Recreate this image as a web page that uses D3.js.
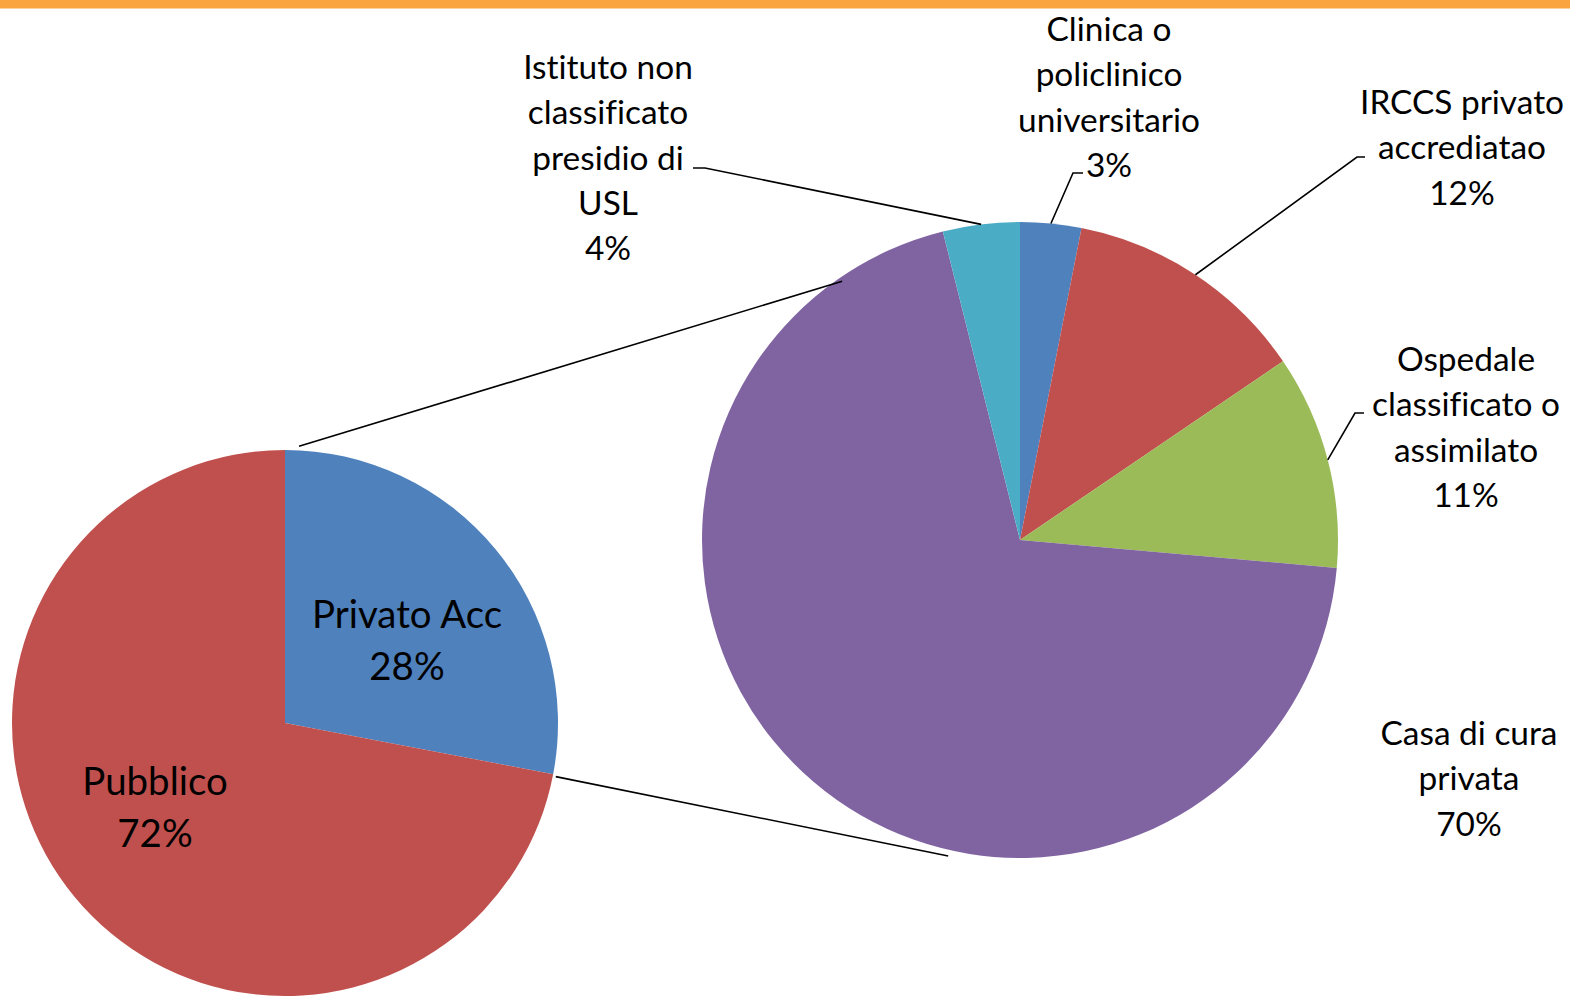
<!DOCTYPE html>
<html>
<head>
<meta charset="utf-8">
<script src="https://cdn.jsdelivr.net/npm/d3@7"></script>
<style>
    html, body { margin: 0; padding: 0; background: #fff; }
    svg { display: block; }
    text { font-family: Lato, "Noto Sans", sans-serif; fill: #000; font-variant-ligatures: none; font-feature-settings: "liga" 0; }
</style>
</head>
<body>
<div id="chart"></div>
<script>
// main pie
const mainLabels = ["Privato Acc", "Pubblico"];
const mainValues = [28, 72];
const mainColors = ["#4F81BD", "#C0504D"];

// breakdown of "Privato Acc"
const subLabels = [
    ["Clinica o", "policlinico", "universitario"],
    ["IRCCS privato", "accrediatao"],
    ["Ospedale", "classificato o", "assimilato"],
    ["Casa di cura", "privata"],
    ["Istituto non", "classificato", "presidio di", "USL"]
];
const subValues = [3.1, 12.4, 10.9, 69.7, 3.9];
const subColors = ["#4F81BD", "#C0504D", "#9BBB59", "#8064A2", "#4BACC6"];

// layout
const W = 1570, H = 997;
const mainPie = { cx: 285, cy: 723, r: 273 };
const subPie = { cx: 1020, cy: 540, r: 318 };
const mainLabelPos = [[407, 613], [155, 780]];
const subLabelPos = [[1109, 28], [1462, 101], [1466, 358], [1469, 732], [608, 66]];
// elbow of each leader: x, y, length of the short horizontal tick
const leaderElbows = [[1083, 173, -10], [1365, 157, -8], [1364, 413, -9], null, [693, 168, 12]];
// connector lines between the two pies: [angle on main pie, radius pad, angle on sub pie, radius pad]
const connectors = [[2.9, 4, 325.5, -4], [101.2, 3, 192.8, 6]];

const smallFont = { size: 33.5, pitch: 45.3, refText: "Casa di cura", refWidth: 177 };
const bigFont = { size: 39, pitch: 52, refText: "Privato Acc", refWidth: 190 };

const fmt = d3.format(".0%");

const svg = d3.select("#chart").append("svg")
    .attr("width", W)
    .attr("height", H);

svg.append("rect")
    .attr("x", 0).attr("y", 0)
    .attr("width", W).attr("height", 8.5)
    .attr("fill", "#F9A43E");

const pie = d3.pie().sort(null).value(d => d);

function polar(p, deg, pad) {
    const a = deg * Math.PI / 180;
    return [p.cx + (p.r + pad) * Math.sin(a), p.cy - (p.r + pad) * Math.cos(a)];
}

// horizontal squeeze so the substitute font matches the condensed original
function squeeze(font) {
    const t = svg.append("text").attr("font-size", font.size).text(font.refText);
    const w = t.node().getComputedTextLength();
    t.remove();
    return font.refWidth / w;
}
const sxSmall = squeeze(smallFont);
const sxBig = squeeze(bigFont);

function drawLabel(x, y, lines, font, sx) {
    const g = svg.append("g")
        .attr("transform", `translate(${x},${y}) scale(${sx},1)`);
    g.selectAll("text")
        .data(lines)
        .enter()
        .append("text")
        .attr("y", (d, i) => i * font.pitch)
        .attr("text-anchor", "middle")
        .attr("dominant-baseline", "central")
        .attr("font-size", font.size)
        .text(d => d);
}

// main pie
const mainArcs = pie(mainValues);
const mainArc = d3.arc().innerRadius(0).outerRadius(mainPie.r);
svg.append("g")
    .attr("transform", `translate(${mainPie.cx},${mainPie.cy})`)
    .selectAll("path")
    .data(mainArcs)
    .enter()
    .append("path")
    .attr("d", mainArc)
    .attr("fill", (d, i) => mainColors[i]);

// sub pie
const total = d3.sum(subValues);
const subArcs = pie(subValues);
const subArc = d3.arc().innerRadius(0).outerRadius(subPie.r);
svg.append("g")
    .attr("transform", `translate(${subPie.cx},${subPie.cy})`)
    .selectAll("path")
    .data(subArcs)
    .enter()
    .append("path")
    .attr("d", subArc)
    .attr("fill", (d, i) => subColors[i]);

// connector lines
connectors.forEach(c => {
    const a = polar(mainPie, c[0], c[1]);
    const b = polar(subPie, c[2], c[3]);
    svg.append("line")
        .attr("x1", a[0]).attr("y1", a[1])
        .attr("x2", b[0]).attr("y2", b[1])
        .attr("stroke", "#000")
        .attr("stroke-width", 1.6);
});

// leader lines
subArcs.forEach((d, i) => {
    const e = leaderElbows[i];
    if (!e) return;
    const mid = (d.startAngle + d.endAngle) / 2 * 180 / Math.PI;
    const p = polar(subPie, mid, 0);
    svg.append("polyline")
        .attr("points", [[e[0], e[1]], [e[0] + e[2], e[1]], p].map(q => q.join(",")).join(" "))
        .attr("fill", "none")
        .attr("stroke", "#000")
        .attr("stroke-width", 1.6);
});

// labels
mainArcs.forEach((d, i) => {
    const pos = mainLabelPos[i];
    drawLabel(pos[0], pos[1], [mainLabels[i], fmt(mainValues[i] / 100)], bigFont, sxBig);
});
subArcs.forEach((d, i) => {
    const pos = subLabelPos[i];
    drawLabel(pos[0], pos[1], subLabels[i].concat(fmt(subValues[i] / total)), smallFont, sxSmall);
});
</script>
</body>
</html>
